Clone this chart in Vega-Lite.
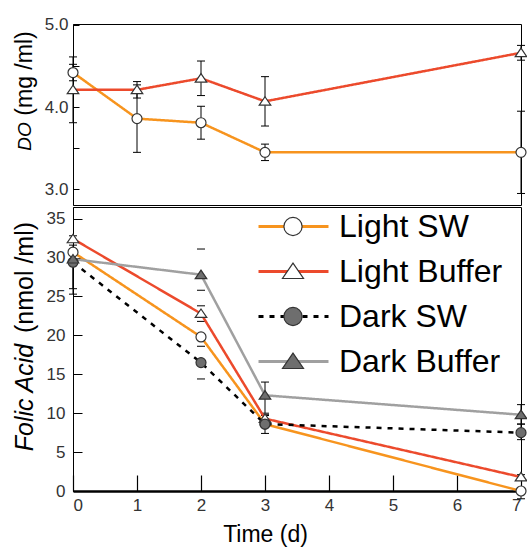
{
  "$schema": "https://vega.github.io/schema/vega-lite/v6.json",
  "autosize": {"type": "pad"},
  "padding": {"left": 11, "top": 15, "right": 0, "bottom": 0},
  "background": "white",
  "spacing": 0,
  "config": {
    "font": "Liberation Sans",
    "view": {"stroke": "black", "strokeWidth": 1},
    "axis": {
      "grid": false, "domainColor": "black", "tickColor": "black", "labelColor": "#333",
      "labelFontSize": 17, "titleFontWeight": "normal", "titleColor": "black",
      "labelFont": "Liberation Sans", "titleFont": "Liberation Sans"
    },
    "legend": {"labelFont": "Liberation Sans", "labelLimit": 400}
  },
  "datasets": {
    "d": [
      {"p": "DO", "s": "Light SW", "t": 0, "v": 4.42, "lo": 4.32, "hi": 4.52},
      {"p": "DO", "s": "Light SW", "t": 1, "v": 3.86, "lo": 3.45, "hi": 4.27},
      {"p": "DO", "s": "Light SW", "t": 2, "v": 3.81, "lo": 3.61, "hi": 4.01},
      {"p": "DO", "s": "Light SW", "t": 3, "v": 3.45, "lo": 3.35, "hi": 3.55},
      {"p": "DO", "s": "Light SW", "t": 7, "v": 3.45, "lo": 2.95, "hi": 3.95},
      {"p": "DO", "s": "Light Buffer", "t": 0, "v": 4.21, "lo": 3.81, "hi": 4.61},
      {"p": "DO", "s": "Light Buffer", "t": 1, "v": 4.21, "lo": 4.11, "hi": 4.31},
      {"p": "DO", "s": "Light Buffer", "t": 2, "v": 4.35, "lo": 4.14, "hi": 4.56},
      {"p": "DO", "s": "Light Buffer", "t": 3, "v": 4.07, "lo": 3.77, "hi": 4.37},
      {"p": "DO", "s": "Light Buffer", "t": 7, "v": 4.66, "lo": 4.57, "hi": 4.75},
      {"p": "FA", "s": "Light SW", "t": 0, "v": 30.7, "lo": 30.3, "hi": 31.1},
      {"p": "FA", "s": "Light SW", "t": 2, "v": 19.8, "lo": 19.4, "hi": 20.2},
      {"p": "FA", "s": "Light SW", "t": 3, "v": 8.6, "lo": 8.2, "hi": 9.0},
      {"p": "FA", "s": "Light SW", "t": 7, "v": 0, "lo": -1.0, "hi": 0.3},
      {"p": "FA", "s": "Light Buffer", "t": 0, "v": 32.4, "lo": 32.0, "hi": 32.8},
      {"p": "FA", "s": "Light Buffer", "t": 2, "v": 22.8, "lo": 21.8, "hi": 23.8},
      {"p": "FA", "s": "Light Buffer", "t": 3, "v": 9.3, "lo": 8.9, "hi": 9.7},
      {"p": "FA", "s": "Light Buffer", "t": 7, "v": 1.8, "lo": 1.5, "hi": 2.1},
      {"p": "FA", "s": "Dark SW", "t": 0, "v": 29.4, "lo": 26.0, "hi": 31.6},
      {"p": "FA", "s": "Dark SW", "t": 2, "v": 16.5, "lo": 14.4, "hi": 18.6},
      {"p": "FA", "s": "Dark SW", "t": 3, "v": 8.6, "lo": 7.4, "hi": 9.8},
      {"p": "FA", "s": "Dark SW", "t": 7, "v": 7.5, "lo": 6.6, "hi": 8.6},
      {"p": "FA", "s": "Dark Buffer", "t": 0, "v": 29.8, "lo": 25.3, "hi": 30.4},
      {"p": "FA", "s": "Dark Buffer", "t": 2, "v": 27.8, "lo": 25.8, "hi": 31.1},
      {"p": "FA", "s": "Dark Buffer", "t": 3, "v": 12.3, "lo": 10.0, "hi": 14.0},
      {"p": "FA", "s": "Dark Buffer", "t": 7, "v": 9.8, "lo": 8.6, "hi": 11.1}
    ]
  },
  "vconcat": [
    {
      "width": 448, "height": 181,
      "data": {"name": "d"},
      "transform": [{"filter": "datum.p == 'DO'"}],
      "resolve": {"scale": {"y": "independent"}},
      "layer": [
        {
          "mark": {"type": "rule", "color": "black", "strokeWidth": 1},
          "encoding": {
            "x": {"field": "t", "type": "quantitative", "scale": {"domain": [0, 7], "nice": false, "zero": false}, "axis": null},
            "y": {"field": "lo", "type": "quantitative", "scale": {"domain": [2.81, 5.01], "nice": false, "zero": false},
              "axis": {"orient": "left", "offset": -6, "tickSize": 6, "labels": false, "domain": false, "title": null, "values": [3, 3.5, 4, 4.5, 5]}},
            "y2": {"field": "hi"}
          }
        },
        {
          "mark": {"type": "point", "shape": "stroke", "size": 64, "stroke": "black", "strokeWidth": 1, "opacity": 1},
          "encoding": {
            "x": {"field": "t", "type": "quantitative", "scale": {"domain": [0, 7], "nice": false, "zero": false}, "axis": null},
            "y": {"field": "lo", "type": "quantitative", "scale": {"domain": [2.81, 5.01], "nice": false, "zero": false}, "axis": null}
          }
        },
        {
          "mark": {"type": "point", "shape": "stroke", "size": 64, "stroke": "black", "strokeWidth": 1, "opacity": 1},
          "encoding": {
            "x": {"field": "t", "type": "quantitative", "scale": {"domain": [0, 7], "nice": false, "zero": false}, "axis": null},
            "y": {"field": "hi", "type": "quantitative", "scale": {"domain": [2.81, 5.01], "nice": false, "zero": false}, "axis": null}
          }
        },
        {
          "mark": {"type": "line", "strokeWidth": 2.5},
          "encoding": {
            "x": {"field": "t", "type": "quantitative", "scale": {"domain": [0, 7], "nice": false, "zero": false}, "axis": null},
            "y": {"field": "v", "type": "quantitative", "scale": {"domain": [2.81, 5.01], "nice": false, "zero": false},
              "axis": {"orient": "left", "values": [3, 4, 5], "format": ".1f", "ticks": false, "labelPadding": 5,
                "title": "(mg /ml)", "titleFontSize": 23, "titleX": -49, "titleY": 49,
                "titleAngle": -90, "titleAlign": "center", "titleBaseline": "middle"}},
            "stroke": {"field": "s", "type": "nominal", "scale": {"domain": ["Light SW", "Light Buffer", "Dark SW", "Dark Buffer"], "range": ["#F7941E", "#EC4A2C", "black", "#A0A0A0"]},
              "legend": {"orient": "none", "legendX": 184, "legendY": 180, "direction": "vertical", "title": null, "symbolType": "stroke",
                "symbolSize": 4900, "symbolStrokeWidth": 3, "labelFontSize": 32, "labelColor": "black", "labelOffset": 9, "padding": 0, "rowPadding": 0, "clipHeight": 45}},
            "strokeDash": {"field": "s", "type": "nominal", "scale": {"domain": ["Light SW", "Light Buffer", "Dark SW", "Dark Buffer"], "range": [[1, 0], [1, 0], [5, 6], [1, 0]]},
              "legend": {"orient": "none", "legendX": 184, "legendY": 180, "direction": "vertical", "title": null, "symbolType": "stroke",
                "symbolSize": 4900, "symbolStrokeWidth": 3, "labelFontSize": 32, "labelColor": "black", "labelOffset": 9, "padding": 0, "rowPadding": 0, "clipHeight": 45}}
          }
        },
        {
          "mark": {"type": "point", "filled": true, "size": 1480, "stroke": "#333", "strokeWidth": 1.2, "opacity": 1},
          "encoding": {
            "x": {"field": "t", "type": "quantitative", "scale": {"domain": [0, 7], "nice": false, "zero": false}, "axis": null},
            "y": {"field": "v", "type": "quantitative", "scale": {"domain": [2.81, 5.01], "nice": false, "zero": false},
              "axis": {"orient": "right", "labels": false, "ticks": false, "domain": false, "title": "DO", "titleFontStyle": "italic",
                "titleFontSize": 19, "titleX": -497, "titleY": 112, "titleAngle": -90, "titleAlign": "center", "titleBaseline": "middle"}},
            "shape": {"field": "s", "type": "nominal", "sort": "descending", "scale": {"range": ["M0.26,0A0.26,0.26,0,1,1,-0.26,0A0.26,0.26,0,1,1,0.26,0Z", "M0,-0.24L0.3,0.2L-0.3,0.2Z", "M0.26,0A0.26,0.26,0,1,1,-0.26,0A0.26,0.26,0,1,1,0.26,0Z", "M0,-0.24L0.3,0.2L-0.3,0.2Z"]},
              "legend": {"orient": "none", "legendX": 184, "legendY": 180, "direction": "vertical", "title": null,
                "symbolSize": 4900, "symbolStrokeWidth": 1.2, "labelFontSize": 32, "labelOpacity": 0, "labelOffset": 9, "padding": 0, "rowPadding": 0, "clipHeight": 45}},
            "fill": {"field": "s", "type": "nominal", "sort": "descending", "scale": {"range": ["white", "white", "#6E6E6E", "#6E6E6E"]},
              "legend": {"orient": "none", "legendX": 184, "legendY": 180, "direction": "vertical", "title": null,
                "symbolSize": 4900, "symbolStrokeWidth": 1.2, "labelFontSize": 32, "labelOpacity": 0, "labelOffset": 9, "padding": 0, "rowPadding": 0, "clipHeight": 45}}
          }
        }
      ]
    },
    {
      "width": 448, "height": 284,
      "data": {"name": "d"},
      "transform": [{"filter": "datum.p == 'FA'"}],
      "resolve": {"scale": {"x": "independent", "y": "independent"}},
      "layer": [
        {
          "transform": [{"filter": "datum.t != 2"}],
          "mark": {"type": "rule", "color": "black", "strokeWidth": 1},
          "encoding": {
            "x": {"field": "t", "type": "quantitative", "scale": {"domain": [0, 7], "nice": false, "zero": false},
              "axis": {"orient": "bottom", "offset": -16, "tickSize": 16, "tickWidth": 1.2, "labels": false, "domain": false, "title": null, "values": [0, 1, 2, 3, 4, 5, 6, 7]}},
            "y": {"field": "lo", "type": "quantitative", "scale": {"domain": [0, 36.5], "nice": false, "zero": false},
              "axis": {"orient": "left", "offset": -9, "tickSize": 9, "labels": false, "domain": false, "title": null, "values": [0, 5, 10, 15, 20, 25, 30, 35]}},
            "y2": {"field": "hi"}
          }
        },
        {
          "mark": {"type": "point", "shape": "stroke", "size": 64, "stroke": "black", "strokeWidth": 1, "opacity": 1},
          "encoding": {
            "x": {"field": "t", "type": "quantitative", "scale": {"domain": [0, 7], "nice": false, "zero": false}, "axis": null},
            "y": {"field": "lo", "type": "quantitative", "scale": {"domain": [0, 36.5], "nice": false, "zero": false}, "axis": null}
          }
        },
        {
          "mark": {"type": "point", "shape": "stroke", "size": 64, "stroke": "black", "strokeWidth": 1, "opacity": 1},
          "encoding": {
            "x": {"field": "t", "type": "quantitative", "scale": {"domain": [0, 7], "nice": false, "zero": false}, "axis": null},
            "y": {"field": "hi", "type": "quantitative", "scale": {"domain": [0, 36.5], "nice": false, "zero": false}, "axis": null}
          }
        },
        {
          "mark": {"type": "line", "strokeWidth": 2.5},
          "encoding": {
            "x": {"field": "t", "type": "quantitative", "scale": {"domain": [0, 7], "nice": false, "zero": false},
              "axis": {"orient": "bottom", "values": [0, 1, 2, 3, 4, 5, 6, 7], "format": "d", "ticks": false, "domainWidth": 2.5,
                "labelPadding": 6, "title": "Time (d)", "titleFontSize": 23, "titleX": 192, "titleY": 43,
                "titleAlign": "center", "titleBaseline": "middle"}},
            "y": {"field": "v", "type": "quantitative", "scale": {"domain": [0, 36.5], "nice": false, "zero": false},
              "axis": {"orient": "left", "values": [0, 5, 10, 15, 20, 25, 30, 35], "ticks": false, "labelPadding": 8,
                "title": "(nmol /ml)", "titleFontSize": 25, "titleX": -49, "titleY": 70, "titleAngle": -90,
                "titleAlign": "center", "titleBaseline": "middle"}},
            "stroke": {"field": "s", "type": "nominal", "scale": {"domain": ["Light SW", "Light Buffer", "Dark SW", "Dark Buffer"], "range": ["#F7941E", "#EC4A2C", "black", "#A0A0A0"]},
              "legend": {"orient": "none", "legendX": 184, "legendY": 180, "direction": "vertical", "title": null, "symbolType": "stroke",
                "symbolSize": 4900, "symbolStrokeWidth": 3, "labelFontSize": 32, "labelColor": "black", "labelOffset": 9, "padding": 0, "rowPadding": 0, "clipHeight": 45}},
            "strokeDash": {"field": "s", "type": "nominal", "scale": {"domain": ["Light SW", "Light Buffer", "Dark SW", "Dark Buffer"], "range": [[1, 0], [1, 0], [5, 6], [1, 0]]},
              "legend": {"orient": "none", "legendX": 184, "legendY": 180, "direction": "vertical", "title": null, "symbolType": "stroke",
                "symbolSize": 4900, "symbolStrokeWidth": 3, "labelFontSize": 32, "labelColor": "black", "labelOffset": 9, "padding": 0, "rowPadding": 0, "clipHeight": 45}}
          }
        },
        {
          "mark": {"type": "point", "filled": true, "size": 1480, "stroke": "#333", "strokeWidth": 1.2, "opacity": 1},
          "encoding": {
            "x": {"field": "t", "type": "quantitative", "scale": {"domain": [0, 7], "nice": false, "zero": false}, "axis": null},
            "y": {"field": "v", "type": "quantitative", "scale": {"domain": [0, 36.5], "nice": false, "zero": false},
              "axis": {"orient": "right", "labels": false, "ticks": false, "domain": false, "title": "Folic Acid", "titleFontStyle": "italic",
                "titleFontSize": 25, "titleX": -497, "titleY": 190, "titleAngle": -90, "titleAlign": "center", "titleBaseline": "middle"}},
            "shape": {"field": "s", "type": "nominal", "sort": "descending", "scale": {"range": ["M0.26,0A0.26,0.26,0,1,1,-0.26,0A0.26,0.26,0,1,1,0.26,0Z", "M0,-0.24L0.3,0.2L-0.3,0.2Z", "M0.26,0A0.26,0.26,0,1,1,-0.26,0A0.26,0.26,0,1,1,0.26,0Z", "M0,-0.24L0.3,0.2L-0.3,0.2Z"]},
              "legend": {"orient": "none", "legendX": 184, "legendY": 180, "direction": "vertical", "title": null,
                "symbolSize": 4900, "symbolStrokeWidth": 1.2, "labelFontSize": 32, "labelOpacity": 0, "labelOffset": 9, "padding": 0, "rowPadding": 0, "clipHeight": 45}},
            "fill": {"field": "s", "type": "nominal", "sort": "descending", "scale": {"range": ["white", "white", "#6E6E6E", "#6E6E6E"]},
              "legend": {"orient": "none", "legendX": 184, "legendY": 180, "direction": "vertical", "title": null,
                "symbolSize": 4900, "symbolStrokeWidth": 1.2, "labelFontSize": 32, "labelOpacity": 0, "labelOffset": 9, "padding": 0, "rowPadding": 0, "clipHeight": 45}}
          }
        }
      ]
    }
  ]
}
